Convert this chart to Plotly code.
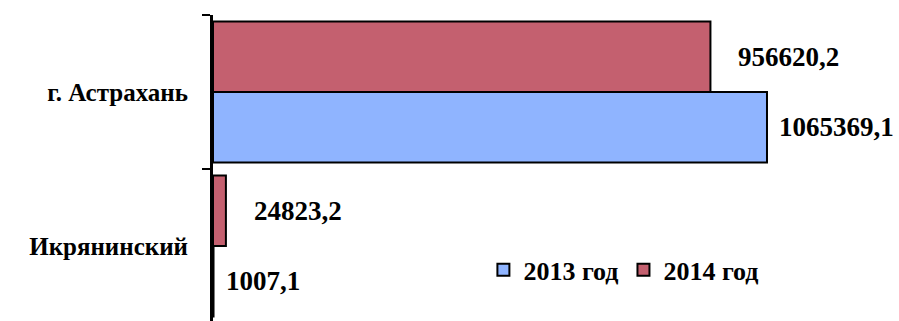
import plotly.graph_objects as go

categories = ["Икрянинский", "г. Астрахань"]
series_names = ["2013 год", "2014 год"]
values_2013 = [1007.1, 1065369.1]
values_2014 = [24823.2, 956620.2]
labels_2013 = ["1007,1", "1065369,1"]
labels_2014 = ["24823,2", "956620,2"]

FONT = "'Liberation Serif', serif"

fig = go.Figure()
fig.add_trace(go.Bar(
    y=categories, x=values_2013, name=series_names[0], orientation="h",
    marker=dict(color="#8fb4ff", line=dict(color="black", width=2)),
))
fig.add_trace(go.Bar(
    y=categories, x=values_2014, name=series_names[1], orientation="h",
    marker=dict(color="#c4606f", line=dict(color="black", width=2)),
))

for vals, labs, ys, xs in [(values_2013, labels_2013, -35, 10), (values_2014, labels_2014, 35, 26)]:
    for cat, v, t in zip(categories, vals, labs):
        fig.add_annotation(
            x=v, y=cat, text="<b>" + t + "</b>", showarrow=False, xanchor="left", yanchor="middle",
            xshift=xs, yshift=ys,
            font=dict(family=FONT, size=27, color="black"),
        )

fig.update_layout(
    width=899, height=321,
    margin=dict(l=213, r=10, t=15, b=0),
    paper_bgcolor="white", plot_bgcolor="white",
    barmode="group", bargap=0.084, bargroupgap=0,
    showlegend=True,
    legend=dict(
        orientation="h", x=0.40, y=0.167, xanchor="left", yanchor="middle",
        font=dict(family=FONT, size=26, color="black", weight="bold"),
        bgcolor="rgba(0,0,0,0)", traceorder="normal", itemwidth=30,
    ),
    xaxis=dict(range=[0, 1300000], visible=False, showgrid=False, zeroline=False),
    yaxis=dict(
        type="category", range=[-0.487, 1.5], showline=True, linecolor="black", linewidth=3,
        ticks="outside", ticklen=8, tickwidth=2, tickcolor="black", tickson="boundaries",
        showgrid=False, zeroline=False, automargin=False, ticklabelstandoff=17,
        tickfont=dict(family=FONT, size=25, color="black", weight="bold"),
    ),
)

fig.write_html("out.html", config={"displayModeBar": False},
               post_script="document.body.style.margin='0';document.body.style.padding='0';")
